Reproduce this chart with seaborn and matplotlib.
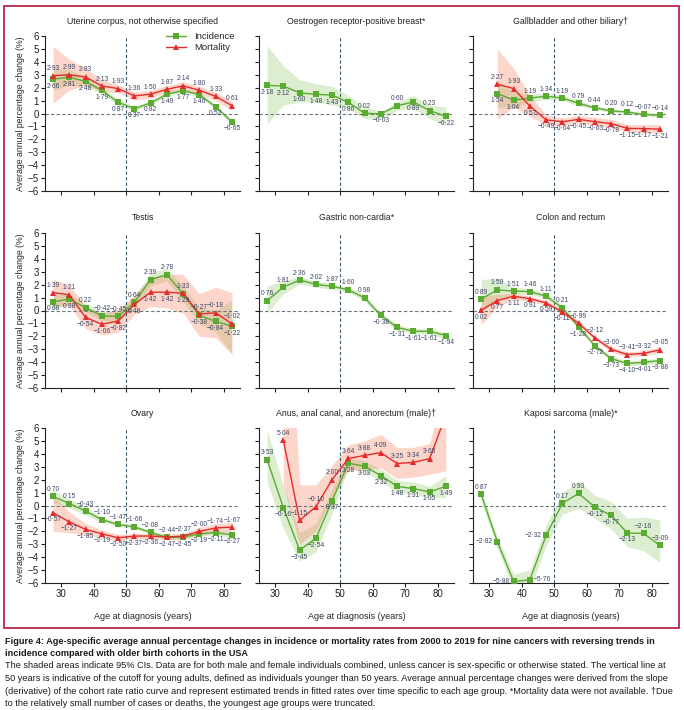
import numpy as np
import pandas as pd
import seaborn as sns
import matplotlib.pyplot as plt
from matplotlib.patches import Rectangle

ages = [27.5, 32.5, 37.5, 42.5, 47.5, 52.5, 57.5, 62.5, 67.5, 72.5, 77.5, 82.5]

# Uterine corpus
uterus_inc = [2.66, 2.81, 2.48, 1.79, 0.87, 0.37, 0.82, 1.49, 1.77, 1.46, 0.52, -0.65]
uterus_inc_lo = [1.8, 2.2, 2.1, 1.55, 0.65, 0.2, 0.65, 1.3, 1.6, 1.3, 0.35, -0.85]
uterus_inc_hi = [3.5, 3.4, 2.85, 2.05, 1.1, 0.55, 1.0, 1.7, 1.95, 1.65, 0.7, -0.45]
uterus_mort = [2.93, 2.99, 2.83, 2.13, 1.93, 1.36, 1.50, 1.87, 2.14, 1.80, 1.33, 0.61]
uterus_mort_lo = [0.8, 1.8, 2.2, 1.7, 1.6, 1.05, 1.2, 1.6, 1.85, 1.5, 1.0, 0.25]
uterus_mort_hi = [5.2, 4.2, 3.5, 2.6, 2.25, 1.65, 1.8, 2.15, 2.45, 2.1, 1.65, 0.95]

# Oestrogen receptor-positive breast
breast_inc = [2.18, 2.12, 1.60, 1.48, 1.43, 0.86, 0.02, -0.03, 0.60, 0.89, 0.23, -0.22]
breast_inc_lo = [-0.8, 0.65, 0.9, 0.9, 0.65, 0.4, -0.4, -0.5, 0.25, 0.4, -0.4, -0.9]
breast_inc_hi = [5.25, 3.7, 2.6, 2.3, 2.1, 1.4, 0.5, 0.15, 0.9, 1.4, 0.65, 0.5]

# Gallbladder and other biliary (youngest group truncated)
gall_inc = [None, 1.54, 1.04, 1.19, 1.34, 1.19, 0.79, 0.44, 0.20, 0.12, -0.07, -0.14]
gall_inc_lo = [None, 0.5, 0.4, 0.9, 1.1, 1.0, 0.6, 0.3, 0.08, 0.0, -0.2, -0.3]
gall_inc_hi = [None, 2.6, 1.7, 1.5, 1.6, 1.4, 1.0, 0.6, 0.32, 0.24, 0.06, 0.02]
gall_mort = [None, 2.27, 1.93, 0.57, -0.49, -0.64, -0.45, -0.63, -0.78, -1.15, -1.17, -1.21]
gall_mort_lo = [None, -0.4, 0.5, -0.2, -0.9, -0.95, -0.75, -0.95, -1.1, -1.45, -1.5, -1.55]
gall_mort_hi = [None, 5.0, 3.5, 1.4, -0.1, -0.35, -0.15, -0.3, -0.45, -0.85, -0.85, -0.85]

# Testis
testis_inc = [0.68, 0.88, 0.22, -0.42, -0.45, 0.64, 2.39, 2.78, 1.29, -0.38, -0.84, -1.22]
testis_inc_lo = [0.1, 0.45, -0.1, -0.8, -0.85, 0.2, 1.9, 2.3, 0.7, -1.0, -1.7, -3.3]
testis_inc_hi = [1.25, 1.3, 0.55, -0.05, -0.05, 1.1, 2.9, 3.3, 1.9, 0.25, 0.0, 0.8]
testis_mort = [1.39, 1.21, -0.54, -1.06, -0.82, 0.48, 1.42, 1.42, 1.33, -0.27, -0.18, -1.02]
testis_mort_lo = [0.3, 0.4, -1.4, -1.9, -1.7, -0.3, 0.3, 0.2, -0.2, -2.0, -2.1, -3.4]
testis_mort_hi = [2.4, 2.0, 0.3, -0.2, 0.1, 1.2, 2.6, 2.8, 2.8, 1.3, 1.8, 1.4]

# Gastric non-cardia
gastric_inc = [0.76, 1.81, 2.36, 2.02, 1.87, 1.60, 0.98, -0.38, -1.31, -1.61, -1.61, -1.94]
gastric_inc_lo = [-0.2, 1.3, 2.05, 1.8, 1.65, 1.4, 0.75, -0.6, -1.5, -1.8, -1.85, -2.2]
gastric_inc_hi = [1.9, 2.3, 2.65, 2.25, 2.1, 1.8, 1.2, -0.15, -1.1, -1.4, -1.4, -1.7]

# Colon and rectum
colon_inc = [0.89, 1.59, 1.51, 1.46, 1.11, 0.21, -1.28, -2.72, -3.73, -4.10, -4.01, -3.88]
colon_inc_lo = [-0.1, 0.9, 1.2, 1.25, 0.9, 0.0, -1.45, -2.9, -3.9, -4.3, -4.2, -4.1]
colon_inc_hi = [2.4, 2.5, 1.8, 1.7, 1.35, 0.45, -1.1, -2.55, -3.55, -3.9, -3.8, -3.7]
colon_mort = [0.02, 0.77, 1.11, 0.91, 0.59, -0.11, -0.99, -2.12, -3.00, -3.41, -3.32, -3.05]
colon_mort_lo = [-1.1, 0.3, 0.85, 0.7, 0.4, -0.3, -1.2, -2.3, -3.2, -3.6, -3.5, -3.3]
colon_mort_hi = [1.1, 1.25, 1.35, 1.1, 0.8, 0.1, -0.8, -1.95, -2.8, -3.2, -3.1, -2.8]

# Ovary
ovary_inc = [0.70, 0.15, -0.43, -1.10, -1.47, -1.66, -2.08, -2.47, -2.45, -2.19, -2.11, -2.27]
ovary_inc_lo = [0.2, -0.2, -0.75, -1.3, -1.65, -1.8, -2.25, -2.65, -2.6, -2.35, -2.3, -2.5]
ovary_inc_hi = [1.2, 0.5, -0.1, -0.9, -1.3, -1.5, -1.9, -2.3, -2.3, -2.0, -1.9, -2.05]
ovary_mort = [-0.57, -1.27, -1.85, -2.19, -2.50, -2.37, -2.36, -2.44, -2.37, -2.00, -1.74, -1.67]
ovary_mort_lo = [-2.0, -2.1, -2.3, -2.5, -2.75, -2.6, -2.6, -2.65, -2.6, -2.3, -2.1, -2.05]
ovary_mort_hi = [0.8, -0.5, -1.4, -1.9, -2.25, -2.15, -2.15, -2.2, -2.15, -1.7, -1.4, -1.3]

# Anus, anal canal, and anorectum (male); last mortality value runs off the chart
anus_inc = [3.53, -0.16, -3.45, -2.54, 0.37, 3.28, 3.03, 2.32, 1.48, 1.31, 1.05, 1.49]
anus_inc_lo = [1.8, -1.8, -4.3, -3.6, -0.6, 2.9, 2.6, 1.9, 1.0, 0.9, 0.6, 0.6]
anus_inc_hi = [5.9, 1.5, -2.1, -1.4, 1.3, 3.7, 3.45, 2.8, 1.95, 1.8, 1.5, 2.3]
anus_mort = [None, 5.04, -1.15, -0.10, 2.00, 3.64, 3.88, 4.09, 3.25, 3.34, 3.63, 7.0]
anus_mort_lo = [None, 1.5, -3.0, -2.0, 0.6, 2.7, 2.8, 2.9, 2.1, 2.2, 2.4, 2.7]
anus_mort_hi = [None, 25.0, 1.6, 1.6, 3.1, 4.7, 5.0, 5.5, 4.5, 4.5, 4.8, 9.5]

# Kaposi sarcoma (male)
kaposi_inc = [0.87, -2.82, -5.88, -5.76, -2.32, 0.17, 0.93, -0.12, -0.77, -2.13, -2.16, -3.09]
kaposi_inc_lo = [0.3, -3.3, -6.6, -6.6, -3.1, -0.7, -0.2, -1.0, -1.8, -3.2, -3.5, -4.4]
kaposi_inc_hi = [1.2, -2.4, -5.3, -5.0, -1.5, 1.0, 1.9, 0.8, 0.3, -1.0, -0.9, -1.1]

panels = [
    ("Uterine corpus, not otherwise specified", uterus_inc, uterus_inc_lo, uterus_inc_hi,
     uterus_mort, uterus_mort_lo, uterus_mort_hi),
    ("Oestrogen receptor-positive breast*", breast_inc, breast_inc_lo, breast_inc_hi, None, None, None),
    ("Gallbladder and other biliary\u2020", gall_inc, gall_inc_lo, gall_inc_hi,
     gall_mort, gall_mort_lo, gall_mort_hi),
    ("Testis", testis_inc, testis_inc_lo, testis_inc_hi, testis_mort, testis_mort_lo, testis_mort_hi),
    ("Gastric non-cardia*", gastric_inc, gastric_inc_lo, gastric_inc_hi, None, None, None),
    ("Colon and rectum", colon_inc, colon_inc_lo, colon_inc_hi, colon_mort, colon_mort_lo, colon_mort_hi),
    ("Ovary", ovary_inc, ovary_inc_lo, ovary_inc_hi, ovary_mort, ovary_mort_lo, ovary_mort_hi),
    ("Anus, anal canal, and anorectum (male)\u2020", anus_inc, anus_inc_lo, anus_inc_hi,
     anus_mort, anus_mort_lo, anus_mort_hi),
    ("Kaposi sarcoma (male)*", kaposi_inc, kaposi_inc_lo, kaposi_inc_hi, None, None, None),
]

# where labels go for the incidence-only panels (a=above, b=below, l=left, r=right)
single_sides = {
    1: "bbbbbbababab",
    4: "aaaaaaabbbbb",
    8: "allrlaabbbaa",
}

inc_col = "#5aab32"
mort_col = "#e52b2b"
lab_col = "#3b4666"

sns.set_style("ticks")
plt.rcParams["font.family"] = ["Liberation Sans Narrow", "Liberation Sans", "DejaVu Sans"]


def arr(v):
    return np.array([np.nan if x is None else x for x in v], dtype=float)


def fmt(v):
    return f"{v:.2f}".replace(".", "\u00b7").replace("-", "\u2212")


def put_label(ax, x, y, side):
    if y > 6 or y < -6.2:
        return
    off = {"a": (0, 2.5), "b": (0, -2.5), "l": (-3, 0), "r": (3, 0)}[side]
    ha = {"a": "center", "b": "center", "l": "right", "r": "left"}[side]
    va = {"a": "bottom", "b": "top", "l": "center", "r": "center"}[side]
    ax.annotate(fmt(y), (x, y), xytext=off, textcoords="offset points", ha=ha, va=va,
                fontsize=4.8, color=lab_col, zorder=6)


W, H = 684, 710
fig = plt.figure(figsize=(W / 100, H / 100), dpi=100)

col_left = [45, 259, 473]
row_top = [36, 233, 428]
aw, ah = 195, 155

for i, (title, inc, inc_lo, inc_hi, mort, mort_lo, mort_hi) in enumerate(panels):
    r, c = divmod(i, 3)
    ax = fig.add_axes([col_left[c] / W, 1 - (row_top[r] + ah) / H, aw / W, ah / H])

    x = np.array(ages)
    rows = []
    yi = arr(inc)
    m = ~np.isnan(yi)
    ax.fill_between(x[m], arr(inc_lo)[m], arr(inc_hi)[m], color="#8cc466", alpha=0.3, lw=0, zorder=1)
    rows.append(pd.DataFrame({"age": x[m], "apc": yi[m], "series": "Incidence"}))
    ym = None
    if mort is not None:
        ym = arr(mort)
        mm = ~np.isnan(ym)
        ax.fill_between(x[mm], arr(mort_lo)[mm], arr(mort_hi)[mm], color="#f6805e", alpha=0.32, lw=0, zorder=1)
        rows.append(pd.DataFrame({"age": x[mm], "apc": ym[mm], "series": "Mortality"}))
    df = pd.concat(rows, ignore_index=True)

    ax.axhline(0, color="#6b757e", lw=0.8, ls=(0, (3, 2)), zorder=2)
    ax.axvline(50, color="#3e5b6e", lw=0.8, ls=(0, (3, 2)), zorder=2)

    sns.lineplot(data=df, x="age", y="apc", hue="series", style="series",
                 palette={"Incidence": inc_col, "Mortality": mort_col},
                 markers={"Incidence": "s", "Mortality": "^"}, dashes=False,
                 lw=1, ms=4, mew=0, sort=False, errorbar=None,
                 legend=(i == 0), ax=ax, zorder=4)

    # value labels
    for k, a in enumerate(ages):
        vi = yi[k]
        vm = ym[k] if ym is not None else np.nan
        if ym is None:
            if not np.isnan(vi):
                put_label(ax, a, vi, single_sides[i][k])
            continue
        if not np.isnan(vi) and not np.isnan(vm):
            put_label(ax, a, vi, "a" if vi > vm else "b")
            put_label(ax, a, vm, "a" if vm >= vi else "b")
        elif not np.isnan(vi):
            put_label(ax, a, vi, "a")
        elif not np.isnan(vm):
            put_label(ax, a, vm, "a")

    ax.set_xlim(25, 85)
    ax.set_ylim(-6, 6)
    ax.set_xticks([30, 40, 50, 60, 70, 80])
    ax.set_yticks(range(-6, 7))
    ax.tick_params(direction="out", length=3, width=0.8, labelsize=7, colors="#222222", pad=1.5)
    sns.despine(ax=ax)
    for s in ["left", "bottom"]:
        ax.spines[s].set_linewidth(0.8)
        ax.spines[s].set_color("#222222")
    if c != 0:
        ax.set_yticklabels([])
        ax.set_ylabel("")
    else:
        ax.set_ylabel("Average annual percentage change (%)", fontsize=6.3, labelpad=2)
    if r != 2:
        ax.set_xticklabels([])
        ax.set_xlabel("")
    else:
        ax.set_xlabel("Age at diagnosis (years)", fontsize=6.5, labelpad=9)
    ax.set_title(title, fontsize=6.3, pad=9, color="#222222")

    if i == 0:
        sns.move_legend(ax, "upper right", bbox_to_anchor=(1.0, 1.06), frameon=False,
                        title=None, fontsize=6.8, handlelength=2.2, labelspacing=0.2,
                        borderaxespad=0.2)

# frame around the panels
fig.add_artist(Rectangle((4 / W, 1 - 628 / H), 675 / W, 622 / H, transform=fig.transFigure,
                         fill=False, ec="#b0143c", lw=1.2))

cap_title = [
    "Figure 4: Age-specific average annual percentage changes in incidence or mortality rates from 2000 to 2019 for nine cancers with reversing trends in",
    "incidence compared with older birth cohorts in the USA",
]
cap_body = [
    "The shaded areas indicate 95% CIs. Data are for both male and female individuals combined, unless cancer is sex-specific or otherwise stated. The vertical line at",
    "50 years is indicative of the cutoff for young adults, defined as individuals younger than 50 years. Average annual percentage changes were derived from the slope",
    "(derivative) of the cohort rate ratio curve and represent estimated trends in fitted rates over time specific to each age group. *Mortality data were not available. \u2020Due",
    "to the relatively small number of cases or deaths, the youngest age groups were truncated.",
]
y = 641
for line in cap_title:
    fig.text(5 / W, 1 - y / H, line, fontsize=6.6, fontweight="bold", va="center", color="#1a1a1a")
    y += 12.5
for line in cap_body:
    fig.text(5 / W, 1 - y / H, line, fontsize=6.6, va="center", color="#1a1a1a")
    y += 12.5

fig.savefig("out.png", dpi=100)
